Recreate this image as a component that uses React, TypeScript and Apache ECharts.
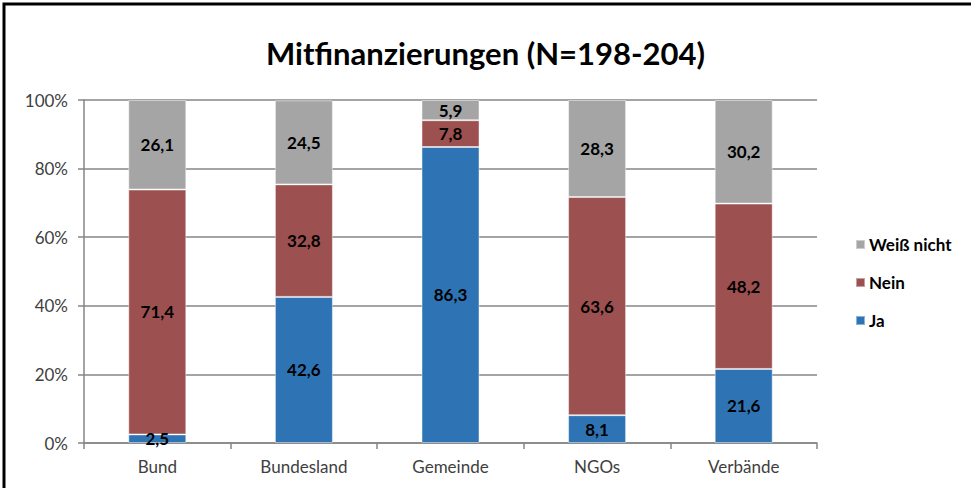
import React, { useEffect, useRef } from "react";
import * as echarts from "echarts";

const categories = ["Bund", "Bundesland", "Gemeinde", "NGOs", "Verbände"];
const ja = [2.5, 42.6, 86.3, 8.1, 21.6];
const nein = [71.4, 32.8, 7.8, 63.6, 48.2];
const weissNicht = [26.1, 24.5, 5.9, 28.3, 30.2];
const titleText = "Mitfinanzierungen (N=198-204)";

const FONT = "Lato, 'Open Sans', sans-serif";

export default function App() {
  const ref = useRef<HTMLDivElement>(null);
  useEffect(() => {
    const chart = echarts.init(ref.current!, null, { renderer: "svg" });
    const label = {
      show: true,
      position: "inside",
      color: "#000",
      fontWeight: "bold",
      fontSize: 17,
      fontFamily: FONT,
      formatter: (p: any) => p.value.toFixed(1).replace(".", ","),
    };
    const mk = (name: string, data: number[], color: string) => ({
      name,
      type: "bar",
      stack: "total",
      data,
      barWidth: 58,
      itemStyle: { color, borderColor: "rgba(255,255,255,0.45)", borderWidth: 1 },
      label,
    });
    chart.setOption({
      animation: false,
      textStyle: { fontFamily: FONT },
      title: {
        text: titleText,
        left: "center",
        top: 32,
        textStyle: { fontSize: 31, fontWeight: "bold", color: "#000", fontFamily: FONT },
      },
      graphic: [
        {
          type: "rect",
          shape: { x: 4, y: 4, width: 1000, height: 1000 },
          style: { fill: "none", stroke: "#000", lineWidth: 3 },
          silent: true,
        },
      ],
      legend: {
        orient: "vertical",
        left: 850,
        top: 231,
        itemWidth: 9,
        itemHeight: 9,
        itemGap: 21,
        icon: "rect",
        data: ["Weiß nicht", "Nein", "Ja"],
        textStyle: { fontSize: 17, fontWeight: "bold", color: "#000", fontFamily: FONT, padding: [0, 0, 0, -1] },
      },
      grid: { left: 84, right: 154, top: 100, bottom: 45 },
      xAxis: {
        type: "category",
        data: categories,
        axisLine: { lineStyle: { color: "#868686", width: 1.5 } },
        axisTick: { show: true, length: 6, lineStyle: { color: "#868686", width: 1.5 } },
        axisLabel: { color: "#404040", fontSize: 17, margin: 15, fontFamily: FONT },
      },
      yAxis: {
        type: "value",
        min: 0,
        max: 100,
        interval: 20,
        axisLine: { show: true, lineStyle: { color: "#868686", width: 1.5 } },
        axisTick: { show: true, length: 6, lineStyle: { color: "#868686", width: 1.5 } },
        splitLine: { lineStyle: { color: "#868686", width: 1.5 } },
        axisLabel: {
          color: "#404040",
          fontSize: 17,
          margin: 16,
          fontFamily: FONT,
          formatter: (v: number) => v + "%",
        },
      },
      series: [
        mk("Ja", ja, "#2E74B5"),
        mk("Nein", nein, "#9C5050"),
        mk("Weiß nicht", weissNicht, "#A5A5A5"),
      ],
    });
    return () => chart.dispose();
  }, []);
  return (
    <div
      ref={ref}
      style={{ position: "absolute", left: 0, top: 0, width: 971, height: 488, background: "#fff" }}
    />
  );
}
